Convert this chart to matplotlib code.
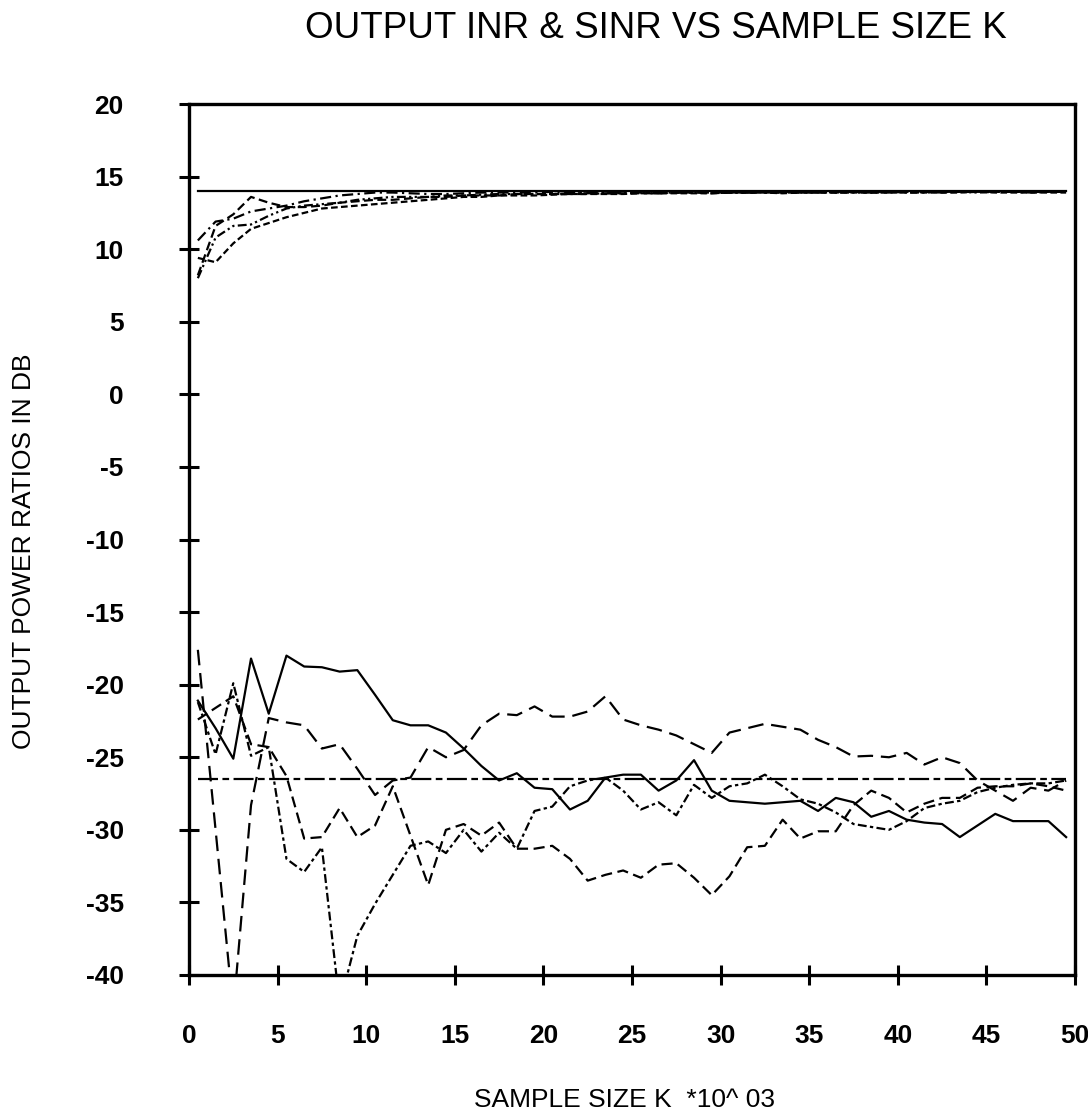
import numpy as np
import matplotlib
matplotlib.use("Agg")
import matplotlib.pyplot as plt

plt.rcParams['font.family'] = ['Liberation Sans', 'DejaVu Sans']
plt.rcParams['axes.unicode_minus'] = False

# sample size K (x 1000), one point per block of 1000 samples
sample_k = np.arange(1, 51)

# output INR curves (top group)
inr_optimum = 14.0
inr_1 = [8.2, 11.6, 12.4, 13.6, 13.2, 12.9, 12.9, 13.0, 13.2, 13.3,
         13.4, 13.4, 13.5, 13.6, 13.6, 13.7, 13.7, 13.7, 13.8, 13.8,
         13.8, 13.8, 13.8, 13.85, 13.85, 13.85, 13.85, 13.9, 13.9, 13.85,
         13.9, 13.9, 13.9, 13.9, 13.9, 13.9, 13.9, 13.95, 13.9, 13.9,
         13.95, 13.95, 13.9, 13.95, 13.95, 13.95, 13.95, 13.95, 13.95, 13.95]
inr_2 = [10.6, 11.9, 12.1, 12.6, 12.8, 13.0, 13.3, 13.5, 13.7, 13.8,
         13.9, 13.9, 13.85, 13.8, 13.8, 13.85, 13.9, 13.9, 13.9, 13.9,
         13.95, 13.9, 13.9, 13.9, 13.95, 13.9, 13.9, 13.9, 13.95, 13.95,
         13.9, 13.9, 13.95, 13.95, 13.95, 13.9, 13.95, 13.95, 13.95, 13.95,
         13.95, 13.95, 13.95, 13.95, 13.95, 13.95, 13.95, 13.95, 13.95, 13.95]
inr_3 = [9.4, 9.1, 10.4, 11.4, 11.8, 12.2, 12.5, 12.8, 12.9, 13.0,
         13.1, 13.2, 13.3, 13.4, 13.5, 13.6, 13.6, 13.7, 13.7, 13.7,
         13.75, 13.8, 13.8, 13.8, 13.8, 13.85, 13.85, 13.85, 13.85, 13.85,
         13.9, 13.9, 13.9, 13.85, 13.9, 13.9, 13.9, 13.9, 13.9, 13.9,
         13.9, 13.9, 13.9, 13.9, 13.95, 13.9, 13.9, 13.9, 13.9, 13.9]
inr_4 = [8.0, 10.8, 11.6, 11.7, 12.3, 12.8, 13.0, 13.1, 13.2, 13.4,
         13.5, 13.6, 13.6, 13.6, 13.7, 13.7, 13.75, 13.8, 13.8, 13.8,
         13.8, 13.85, 13.85, 13.85, 13.85, 13.9, 13.85, 13.9, 13.9, 13.9,
         13.9, 13.9, 13.9, 13.9, 13.9, 13.95, 13.9, 13.9, 13.9, 13.95,
         13.9, 13.9, 13.95, 13.95, 13.9, 13.95, 13.95, 13.9, 13.95, 13.95]

# output SINR curves (bottom group)
sinr_optimum = -26.5
sinr_1 = [-21.1, -23.0, -25.1, -18.2, -22.0, -18.0, -18.75, -18.8, -19.1, -19.0,
          -20.7, -22.45, -22.8, -22.8, -23.3, -24.4, -25.6, -26.6, -26.1, -27.1,
          -27.2, -28.6, -28.0, -26.4, -26.2, -26.2, -27.3, -26.6, -25.2, -27.3,
          -28.0, -28.1, -28.2, -28.1, -28.0, -28.7, -27.8, -28.1, -29.1, -28.7,
          -29.3, -29.5, -29.6, -30.5, -29.7, -28.9, -29.4, -29.4, -29.4, -30.5]
sinr_2 = [-17.6, -30.0, -42.5, -28.3, -22.3, -22.6, -22.8, -24.4, -24.1, -25.8,
          -27.6, -26.6, -26.4, -24.3, -25.0, -24.5, -22.8, -22.0, -22.1, -21.5,
          -22.2, -22.2, -21.85, -20.8, -22.4, -22.8, -23.1, -23.5, -24.1, -24.7,
          -23.3, -23.0, -22.7, -22.9, -23.1, -23.8, -24.3, -24.95, -24.9, -25.0,
          -24.7, -25.5, -25.0, -25.4, -26.6, -27.3, -28.0, -27.1, -27.3, -26.6]
sinr_3 = [-22.4, -21.6, -20.8, -24.1, -24.3, -26.3, -30.6, -30.5, -28.5, -30.5,
          -29.7, -27.0, -30.4, -33.8, -30.0, -29.6, -30.4, -29.5, -31.3, -31.3,
          -31.1, -32.0, -33.5, -33.1, -32.8, -33.3, -32.4, -32.3, -33.3, -34.5,
          -33.2, -31.2, -31.1, -29.3, -30.6, -30.1, -30.1, -28.3, -27.3, -27.8,
          -28.8, -28.2, -27.8, -27.8, -27.1, -27.0, -27.0, -26.8, -27.0, -27.3]
sinr_4 = [-21.2, -24.8, -19.9, -24.9, -24.3, -32.0, -32.9, -31.2, -42.0, -37.3,
          -35.1, -33.1, -31.1, -30.8, -31.6, -30.0, -31.5, -30.2, -31.3, -28.7,
          -28.4, -27.0, -26.6, -26.4, -27.3, -28.6, -28.1, -29.0, -26.9, -27.8,
          -27.0, -26.8, -26.2, -27.0, -27.9, -28.2, -28.8, -29.6, -29.8, -30.0,
          -29.4, -28.5, -28.2, -28.0, -27.4, -27.1, -26.9, -26.8, -26.8, -26.6]

x_ticks = list(range(0, 51, 5))
y_ticks = list(range(-40, 21, 5))

W, H = 1088, 1114
fig = plt.figure(figsize=(W / 100, H / 100), dpi=100)
ax = fig.add_axes([189 / W, 1 - 975 / H, 886 / W, 871 / H])

x = sample_k - 0.5
lw = 1.6
k = dict(color='black', lw=lw)

# reference levels
ax.plot(x, [inr_optimum] * len(x), '-', **k)
ax.plot(x, [sinr_optimum] * len(x), dashes=(9, 2, 3, 2), **k)

# INR curves
ax.plot(x, inr_1, dashes=(4, 2), **k)
ax.plot(x, inr_2, dashes=(5, 2, 1, 2), **k)
ax.plot(x, inr_3, dashes=(3, 1.5), **k)
ax.plot(x, inr_4, dashes=(4, 1.5, 1, 1.5, 1, 1.5), **k)

# SINR curves
ax.plot(x, sinr_1, '-', **k)
ax.plot(x, sinr_2, dashes=(7, 3.5), **k)
ax.plot(x, sinr_3, dashes=(5, 2.5), **k)
ax.plot(x, sinr_4, dashes=(4, 1.5, 1.5, 1.5), **k)

ax.set_xlim(0, 50)
ax.set_ylim(-40, 20)
ax.set_xticks(x_ticks)
ax.set_yticks(y_ticks)
for s in ax.spines.values():
    s.set_linewidth(2.4)
ax.tick_params(direction='inout', length=14, width=2.2, labelsize=19)
ax.tick_params(axis='x', pad=28)
ax.tick_params(axis='y', pad=40)
for lab in ax.get_xticklabels() + ax.get_yticklabels():
    lab.set_fontweight('bold')

fig.text(656 / W, 1 - 28 / H, 'OUTPUT INR & SINR VS SAMPLE SIZE K',
         ha='center', va='center', fontsize=26.5)
fig.text(624 / W, 1 - 1100 / H, 'SAMPLE SIZE K  *10^ 03',
         ha='center', va='center', fontsize=19)
fig.text(24 / W, 1 - 551 / H, 'OUTPUT POWER RATIOS IN DB',
         ha='center', va='center', rotation=90, fontsize=19)

fig.savefig('out.png', dpi=100)
